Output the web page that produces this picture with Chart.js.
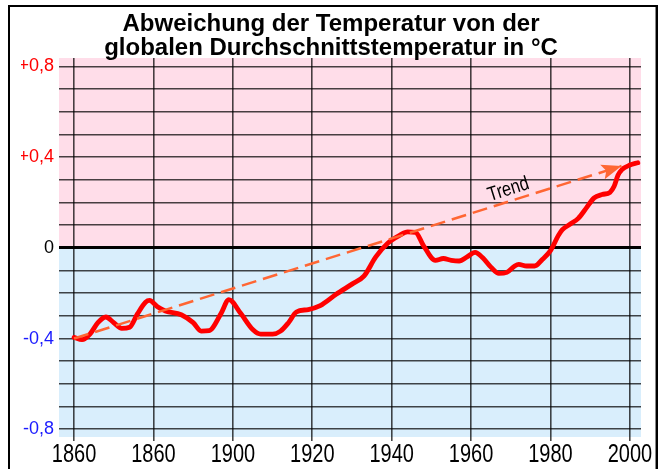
<!DOCTYPE html>
<html><head><meta charset="utf-8">
<script src="https://cdn.jsdelivr.net/npm/chart.js@4.4.1/dist/chart.umd.min.js"></script>
<style>html,body{margin:0;padding:0;background:#fff}#wrap{width:660px;height:469px}</style>
</head><body><div id="wrap"><canvas id="c" width="660" height="469"></canvas></div>
<script>
const years = [1860,1862,1864,1866,1868,1870,1872,1874,1876,1878,1879,1881,1883,1887,1890,1892,1894,1897,1899,1902,1905,1907,1910,1912,1914,1916,1919,1922,1926,1930,1933,1936,1939,1942,1944,1946,1948,1951,1953,1955,1957,1959,1961,1963,1965,1967,1969,1971,1972,1974,1976,1978,1980,1982,1983,1985,1987,1989,1991,1993,1995,1996,1997,1998,2000,2002];
const anomaly = [-0.395,-0.405,-0.38,-0.33,-0.305,-0.33,-0.355,-0.35,-0.29,-0.24,-0.232,-0.26,-0.278,-0.295,-0.33,-0.367,-0.365,-0.29,-0.228,-0.29,-0.36,-0.38,-0.38,-0.367,-0.33,-0.283,-0.272,-0.255,-0.205,-0.16,-0.125,-0.04,0.02,0.055,0.07,0.068,0.01,-0.055,-0.047,-0.055,-0.058,-0.04,-0.02,-0.045,-0.085,-0.113,-0.108,-0.08,-0.073,-0.08,-0.08,-0.05,-0.012,0.055,0.08,0.105,0.13,0.175,0.22,0.235,0.245,0.27,0.32,0.345,0.365,0.375];
const trendYears = [1860, 1997.9];
const trendValues = [-0.40, 0.361];
const trendLabel = 'Trend';
const xTickValues = [1860,1880,1900,1920,1940,1960,1980,2000];
const xTickLabels = ['1860','1860','1900','1920','1940','1960','1980','2000'];
const yTickValues = [-0.8,-0.7,-0.6,-0.5,-0.4,-0.3,-0.2,-0.1,0,0.1,0.2,0.3,0.4,0.5,0.6,0.7,0.8];
const yTickLabels = ['-0,8','','','','-0,4','','','','0','','','','+0,4','','','','+0,8'];
const titleLines = ['Abweichung der Temperatur von der','globalen Durchschnittstemperatur in °C'];

const SANS = "'Liberation Sans',Arial,sans-serif";
const PINK = '#ffdde9', BLUE = '#d9eefc', TREND = '#ff6633';

const bgPlugin = {
  id: 'bg',
  beforeDraw(chart) {
    const {ctx, chartArea: a, scales: {y}} = chart;
    ctx.save();
    ctx.fillStyle = '#fff';
    ctx.fillRect(0, 0, chart.width, chart.height);
    const y0 = y.getPixelForValue(0);
    ctx.fillStyle = PINK;
    ctx.fillRect(a.left, a.top, a.right - a.left, y0 - a.top);
    ctx.fillStyle = BLUE;
    ctx.fillRect(a.left, y0, a.right - a.left, a.bottom - y0);
    ctx.strokeStyle = '#000';
    ctx.lineWidth = 2;
    ctx.beginPath();
    ctx.moveTo(9, 480); ctx.lineTo(9, 6); ctx.lineTo(657, 6); ctx.lineTo(657, 480);
    ctx.stroke();
    ctx.strokeStyle = '#888';
    ctx.lineWidth = 1;
    ctx.beginPath();
    ctx.moveTo(655.5, 7); ctx.lineTo(655.5, 480);
    ctx.stroke();
    ctx.restore();
  }
};

// narrow (horizontally condensed) text for the x-axis tick labels and the trend label
const narrowText = {
  id: 'narrowText',
  afterDraw(chart) {
    const {ctx, scales: {x}} = chart;
    ctx.save();
    ctx.fillStyle = '#000';
    ctx.font = "25px " + SANS;
    ctx.textAlign = 'center';
    ctx.textBaseline = 'alphabetic';
    x.ticks.forEach((t, i) => {
      const px = x.getPixelForValue(t.value);
      ctx.save();
      ctx.translate(px, 462);
      ctx.scale(0.8, 1);
      ctx.fillText(xTickLabels[i], 0, 0);
      ctx.restore();
    });
    ctx.restore();
  },
  afterDatasetsDraw(chart) {
    const {ctx, scales: {x, y}} = chart;
    const x0 = x.getPixelForValue(trendYears[0]), y0 = y.getPixelForValue(trendValues[0]);
    const x1 = x.getPixelForValue(trendYears[1]), y1 = y.getPixelForValue(trendValues[1]);
    const ang = Math.atan2(y1 - y0, x1 - x0);
    const L = 20, W = 7.5;
    ctx.save();
    ctx.fillStyle = TREND;
    ctx.translate(x1, y1);
    ctx.rotate(ang);
    ctx.beginPath();
    ctx.moveTo(0, 0); ctx.lineTo(-L, -W); ctx.lineTo(-L * 0.8, 0); ctx.lineTo(-L, W); ctx.closePath();
    ctx.fill();
    ctx.restore();
    const lx = x.getPixelForValue(1969.4), ly = y.getPixelForValue(0.257);
    ctx.save();
    ctx.translate(lx, ly);
    ctx.rotate(ang);
    ctx.scale(0.82, 1);
    ctx.fillStyle = '#000';
    ctx.font = "20px " + SANS;
    ctx.textAlign = 'center';
    ctx.textBaseline = 'middle';
    ctx.fillText(trendLabel, 0, 0);
    ctx.restore();
  }
};

new Chart(document.getElementById('c'), {
  type: 'line',
  data: {
    datasets: [
      {
        label: 'Trend',
        data: trendYears.map((t, i) => ({x: t, y: trendValues[i]})),
        borderColor: TREND,
        borderWidth: 2.5,
        borderDash: [15, 7],
        pointRadius: 0,
        fill: false
      },
      {
        label: 'Abweichung',
        data: years.map((t, i) => ({x: t, y: anomaly[i]})),
        borderColor: '#ff0000',
        borderWidth: 4.8,
        pointRadius: 0,
        cubicInterpolationMode: 'monotone',
        borderCapStyle: 'round',
        borderJoinStyle: 'round',
        fill: false
      }
    ]
  },
  options: {
    responsive: false,
    animation: false,
    devicePixelRatio: 1,
    layout: {padding: {left: 21, right: 19, top: 0, bottom: 0}},
    plugins: {
      legend: {display: false},
      tooltip: {enabled: false},
      title: {
        display: true,
        text: titleLines,
        color: '#000',
        font: {family: SANS, size: 24, weight: 'bold', lineHeight: 1.0},
        padding: {top: 12, bottom: -2}
      }
    },
    scales: {
      x: {
        type: 'linear',
        min: 1856.2,
        max: 2002.8,
        afterBuildTicks(s) { s.ticks = xTickValues.map(v => ({value: v})); },
        afterFit(s) { s.height = 32; },
        border: {display: false},
        grid: {color: 'rgba(0,0,0,0.72)', lineWidth: 1.6, drawTicks: true, tickLength: 4, tickColor: 'rgba(0,0,0,0.72)'},
        ticks: {
          display: false,
          autoSkip: false, maxRotation: 0, padding: 0,
          callback: (v, i) => xTickLabels[i]
        }
      },
      y: {
        type: 'linear',
        min: -0.834,
        max: 0.837,
        afterBuildTicks(s) { s.ticks = yTickValues.map(v => ({value: v})); },
        afterFit(s) { s.width = 38; },
        border: {display: false},
        grid: {
          color: (c) => c.tick && Math.abs(c.tick.value) < 1e-9 ? '#000' : 'rgba(0,0,0,0.72)',
          lineWidth: (c) => c.tick && Math.abs(c.tick.value) < 1e-9 ? 3 : 1.6,
          drawTicks: false
        },
        ticks: {
          autoSkip: false, padding: 5,
          color: (c) => c.tick.value > 1e-9 ? '#ff0000' : (c.tick.value < -1e-9 ? '#1a1aff' : '#000'),
          font: {family: SANS, size: 18},
          callback: (v, i) => yTickLabels[i]
        }
      }
    }
  },
  plugins: [bgPlugin, narrowText]
});
</script>
</body></html>
